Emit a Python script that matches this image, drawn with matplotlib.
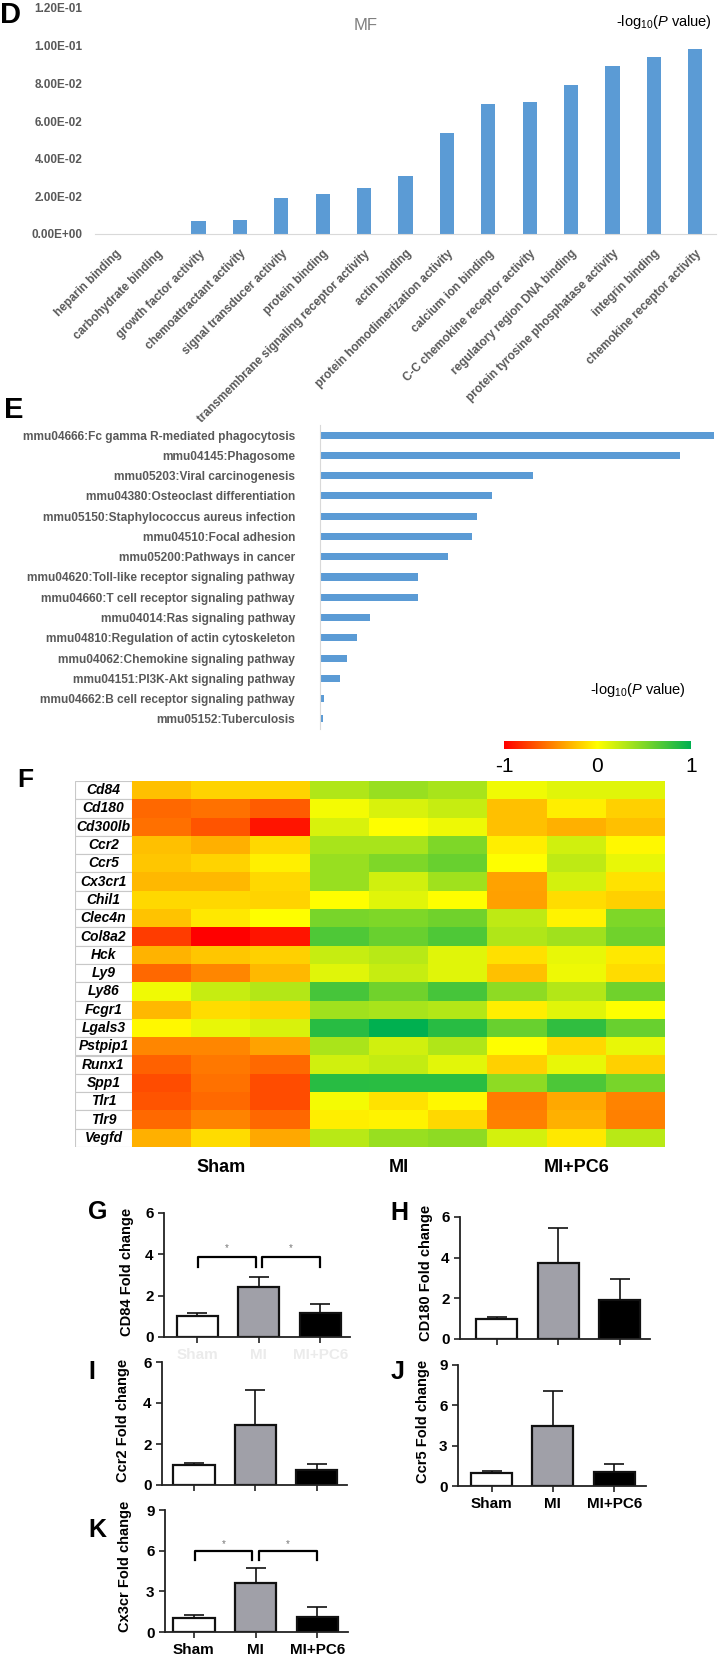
import numpy as np
import matplotlib
matplotlib.use('Agg')
import matplotlib.pyplot as plt
from matplotlib.colors import LinearSegmentedColormap

plt.rcParams['font.family'] = ['Liberation Sans', 'DejaVu Sans']
plt.rcParams['mathtext.fontset'] = 'custom'
plt.rcParams['mathtext.rm'] = 'Liberation Sans'
plt.rcParams['mathtext.it'] = 'Liberation Sans:italic'

# ── D: GO molecular function ────────────────────────────────────────────────
mf_terms = ['heparin binding', 'carbohydrate binding', 'growth factor activity',
            'chemoattractant activity', 'signal transducer activity', 'protein binding',
            'transmembrane signaling receptor activity', 'actin binding',
            'protein homodimerization activity', 'calcium ion binding',
            'C-C chemokine receptor activity', 'regulatory region DNA binding',
            'protein tyrosine phosphatase activity', 'integrin binding',
            'chemokine receptor activity']
mf_vals = [0.0, 0.0, 0.0071, 0.0076, 0.0190, 0.0215, 0.0242, 0.0309,
           0.0537, 0.0692, 0.0699, 0.0793, 0.0892, 0.0939, 0.0980]

# ── E: KEGG pathways ─────────────────────────────────────────────────────────
kegg_terms = ['mmu04666:Fc gamma R-mediated phagocytosis', 'mmu04145:Phagosome',
              'mmu05203:Viral carcinogenesis', 'mmu04380:Osteoclast differentiation',
              'mmu05150:Staphylococcus aureus infection', 'mmu04510:Focal adhesion',
              'mmu05200:Pathways in cancer', 'mmu04620:Toll-like receptor signaling pathway',
              'mmu04660:T cell receptor signaling pathway', 'mmu04014:Ras signaling pathway',
              'mmu04810:Regulation of actin cytoskeleton', 'mmu04062:Chemokine signaling pathway',
              'mmu04151:PI3K-Akt signaling pathway', 'mmu04662:B cell receptor signaling pathway',
              'mmu05152:Tuberculosis']
kegg_vals = [3.94, 3.60, 2.13, 1.72, 1.57, 1.52, 1.28, 0.98, 0.98, 0.50,
             0.37, 0.27, 0.20, 0.04, 0.03]

# ── F: heatmap ───────────────────────────────────────────────────────────────
genes = ['Cd84', 'Cd180', 'Cd300lb', 'Ccr2', 'Ccr5', 'Cx3cr1', 'Chil1', 'Clec4n',
         'Col8a2', 'Hck', 'Ly9', 'Ly86', 'Fcgr1', 'Lgals3', 'Pstpip1', 'Runx1',
         'Spp1', 'Tlr1', 'Tlr9', 'Vegfd']
groups = ['Sham', 'MI', 'MI+PC6']
sham_z = [[-0.25, -0.17, -0.17], [-0.59, -0.55, -0.64], [-0.56, -0.67, -0.92],
          [-0.25, -0.31, -0.15], [-0.22, -0.17, -0.06], [-0.28, -0.28, -0.15],
          [-0.15, -0.15, -0.17], [-0.23, -0.09, 0.00], [-0.76, -1.00, -0.92],
          [-0.29, -0.22, -0.18], [-0.59, -0.47, -0.28], [0.06, 0.22, 0.29],
          [-0.28, -0.14, -0.17], [-0.03, 0.09, 0.15], [-0.47, -0.47, -0.36],
          [-0.61, -0.53, -0.58], [-0.70, -0.55, -0.70], [-0.67, -0.58, -0.70],
          [-0.58, -0.48, -0.59], [-0.31, -0.14, -0.34]]
mi_z = [[0.31, 0.40, 0.34], [0.04, 0.15, 0.22], [0.15, 0.00, 0.07],
        [0.34, 0.34, 0.50], [0.40, 0.50, 0.59], [0.40, 0.18, 0.37],
        [0.00, 0.12, 0.00], [0.53, 0.50, 0.56], [0.69, 0.59, 0.69],
        [0.22, 0.28, 0.12], [0.12, 0.22, 0.12], [0.72, 0.56, 0.72],
        [0.37, 0.34, 0.29], [0.84, 1.00, 0.84], [0.33, 0.18, 0.31],
        [0.18, 0.23, 0.11], [0.84, 0.83, 0.83], [0.04, -0.11, -0.03],
        [-0.07, -0.04, -0.15], [0.28, 0.40, 0.44]]
pc6_z = [[0.06, 0.12, 0.12], [-0.25, -0.07, -0.18], [-0.25, -0.31, -0.25],
         [-0.07, 0.18, -0.03], [0.00, 0.25, 0.09], [-0.36, 0.17, -0.11],
         [-0.37, -0.14, -0.18], [0.25, -0.04, 0.50], [0.31, 0.37, 0.56],
         [-0.12, 0.09, -0.09], [-0.25, 0.07, -0.14], [0.44, 0.29, 0.56],
         [-0.07, 0.12, 0.00], [0.59, 0.81, 0.59], [0.00, -0.15, 0.09],
         [-0.18, 0.09, -0.18], [0.44, 0.70, 0.53], [-0.51, -0.34, -0.48],
         [-0.50, -0.31, -0.50], [0.17, -0.09, 0.28]]

# ── G-K: qPCR fold change (mean, upper SEM) ──────────────────────────────────
cd84_mean, cd84_err = [1.00, 2.40, 1.18], [0.18, 0.50, 0.40]
cd180_mean, cd180_err = [1.00, 3.74, 1.90], [0.10, 1.73, 1.07]
ccr2_mean, ccr2_err = [1.00, 2.93, 0.71], [0.05, 1.70, 0.33]
ccr5_mean, ccr5_err = [1.00, 4.50, 1.06], [0.10, 2.55, 0.60]
cx3cr_mean, cx3cr_err = [1.04, 3.60, 1.12], [0.22, 1.14, 0.74]

W, H = 726, 1662
fig = plt.figure(figsize=(W / 100, H / 100), dpi=100)


def px_axes(x0, y0, x1, y1):
    return fig.add_axes([x0 / W, 1 - y1 / H, (x1 - x0) / W, (y1 - y0) / H])


def fig_text(x, y, s, **kw):
    fig.text(x / W, 1 - y / H, s, **kw)


blue = '#5B9BD5'
grey_txt = '#595959'
pval_lbl = r'-log$_{10}$($\mathit{P}$ value)'

# ── Panel D ──
axD = px_axes(95, 8, 716, 234)
xD = np.arange(len(mf_terms))
axD.bar(xD, mf_vals, width=0.34, color=blue)
axD.set_xlim(-0.5, len(mf_terms) - 0.5)
axD.set_ylim(0, 0.12)
axD.set_yticks(np.arange(0, 0.121, 0.02))
axD.set_yticklabels(['%.2E' % v for v in np.arange(0, 0.121, 0.02)],
                    fontsize=8.5, color=grey_txt, fontweight='bold')
axD.set_xticks(xD)
axD.set_xticklabels(mf_terms, rotation=45, ha='right', rotation_mode='anchor',
                    fontsize=8.5, color=grey_txt, fontweight='bold')
axD.tick_params(axis='both', length=0)
axD.tick_params(axis='x', pad=10)
axD.tick_params(axis='y', pad=9)
for s in ['left', 'top', 'right']:
    axD.spines[s].set_visible(False)
axD.spines['bottom'].set_color('#D9D9D9')
fig_text(366, 25, 'MF', fontsize=12, color='#7F7F7F', ha='center', va='center')
fig_text(664, 22, pval_lbl, fontsize=10.5, ha='center', va='center')
fig_text(10, 15, 'D', fontsize=21, fontweight='bold', ha='center', va='center')

# ── Panel E ──
axE = px_axes(320, 425, 716, 729)
yE = np.arange(len(kegg_terms))
axE.barh(yE, kegg_vals, height=0.35, color=blue)
axE.set_ylim(len(kegg_terms) - 0.5, -0.5)
axE.set_xlim(0, 3.96)
axE.set_xticks([])
axE.set_yticks(yE)
axE.set_yticklabels(kegg_terms, fontsize=8.6, color=grey_txt, fontweight='bold')
axE.tick_params(axis='y', length=0, pad=18)
for s in ['bottom', 'top', 'right']:
    axE.spines[s].set_visible(False)
axE.spines['left'].set_color('#D9D9D9')
fig_text(638, 690, pval_lbl, fontsize=10.5, ha='center', va='center')
fig_text(14, 410, 'E', fontsize=21, fontweight='bold', ha='center', va='center')

# ── Panel F ──
cmap = LinearSegmentedColormap.from_list('ryg', ['#FF0000', '#FFFF00', '#00B050'])
heat = np.hstack([np.array(sham_z), np.array(mi_z), np.array(pc6_z)])

axCb = px_axes(504, 741, 691, 749)
axCb.imshow(np.linspace(-1, 1, 256)[None, :], cmap=cmap, aspect='auto',
            extent=(-1, 1, 0, 1), vmin=-1, vmax=1)
axCb.set_yticks([])
axCb.set_xticks([-1, 0, 1])
axCb.set_xticklabels(['-1', '0', '1'], fontsize=15)
axCb.tick_params(axis='x', length=0, pad=6)
for s in axCb.spines.values():
    s.set_visible(False)

axF = px_axes(132, 781, 665, 1147)
axF.imshow(heat, cmap=cmap, vmin=-1, vmax=1, aspect='auto', interpolation='nearest')
axF.set_yticks([])
axF.set_xticks([1, 4, 7])
axF.set_xticklabels(groups, fontsize=13, fontweight='bold')
axF.tick_params(axis='x', length=0, pad=9)
for s in axF.spines.values():
    s.set_visible(False)

axL = px_axes(75, 781, 132, 1147)
yL = np.arange(len(genes))
axL.barh(yL, 1, height=1, left=0, color='white', edgecolor='#C8C8C8', linewidth=0.8)
for i, g in enumerate(genes):
    axL.text(0.5, i, g, ha='center', va='center', fontsize=10,
             fontweight='bold', fontstyle='italic')
axL.set_xlim(0, 1)
axL.set_ylim(len(genes) - 0.5, -0.5)
axL.axis('off')
fig_text(25, 780, 'F', fontsize=19, fontweight='bold', ha='center', va='center')

# ── Panels G-K ──
bar_cols = ['white', '#A0A0A8', 'black']


def fold_panel(box, xlim, means, errs, ymax, step, ylabel, ylab_xy, letter, letter_xy,
               tick_col=None, brackets=None):
    ax = px_axes(*box)
    x = np.arange(3)
    ax.bar(x, means, width=0.67, color=bar_cols, edgecolor='#111111', linewidth=1.6,
           zorder=2)
    ax.errorbar(x, means, yerr=[np.zeros(3), errs], fmt='none', ecolor='#111111',
                elinewidth=1.2, capsize=7, capthick=1.2, zorder=1)
    ax.set_xlim(*xlim)
    ax.set_ylim(0, ymax)
    ticks = np.arange(0, ymax + 0.01, step)
    ax.set_yticks(ticks)
    ax.set_yticklabels(['%d' % t for t in ticks], fontsize=11, fontweight='bold')
    ax.set_xticks(x)
    if tick_col is None:
        ax.set_xticklabels(['', '', ''])
    else:
        ax.set_xticklabels(groups, fontsize=11, fontweight='bold', color=tick_col)
    ax.tick_params(width=1.2, length=4, color='#222222')
    ax.tick_params(axis='x', pad=4)
    for s in ['top', 'right']:
        ax.spines[s].set_visible(False)
    for s in ['left', 'bottom']:
        ax.spines[s].set_linewidth(1.3)
        ax.spines[s].set_color('#222222')
    if brackets:
        for x0, x1, ytop, yleg, ystar in brackets:
            ax.plot([x0, x0, x1, x1], [yleg, ytop, ytop, yleg], color='black', lw=1.6,
                    clip_on=False)
            ax.text((x0 + x1) / 2, ystar, '*', fontsize=7, color='#777777',
                    ha='center', va='center')
    fig_text(ylab_xy[0], ylab_xy[1], ylabel, rotation=90, fontsize=10.5,
             fontweight='bold', ha='center', va='center')
    fig_text(letter_xy[0], letter_xy[1], letter, fontsize=18, fontweight='bold',
             ha='center', va='center')
    return ax


fold_panel((164, 1213, 350, 1337), (-0.54, 2.48), cd84_mean, cd84_err, 6, 2,
           'CD84 Fold change', (127, 1272), 'G', (98, 1212), tick_col='#EBEBEB',
           brackets=[(0.02, 0.95, 3.85, 3.4, 4.3), (1.05, 2.0, 3.85, 3.4, 4.3)])
fold_panel((460, 1217, 650, 1339), (-0.6, 2.49), cd180_mean, cd180_err, 6, 2,
           'CD180 Fold change', (426, 1273), 'H', (399, 1213))
fold_panel((162, 1362, 347, 1485), (-0.52, 2.49), ccr2_mean, ccr2_err, 6, 2,
           'Ccr2 Fold change', (123, 1420), 'I', (92, 1372))
fold_panel((458, 1365, 646, 1486), (-0.55, 2.52), ccr5_mean, ccr5_err, 9, 3,
           'Ccr5 Fold change', (423, 1421), 'J', (398, 1372), tick_col='black')
fold_panel((165, 1510, 348, 1632), (-0.47, 2.5), cx3cr_mean, cx3cr_err, 9, 3,
           'Cx3cr Fold change', (125, 1566), 'K', (97, 1530), tick_col='black',
           brackets=[(0.02, 0.95, 5.95, 5.3, 6.5), (1.05, 2.0, 5.95, 5.3, 6.5)])

fig.savefig('out.png', dpi=100)
